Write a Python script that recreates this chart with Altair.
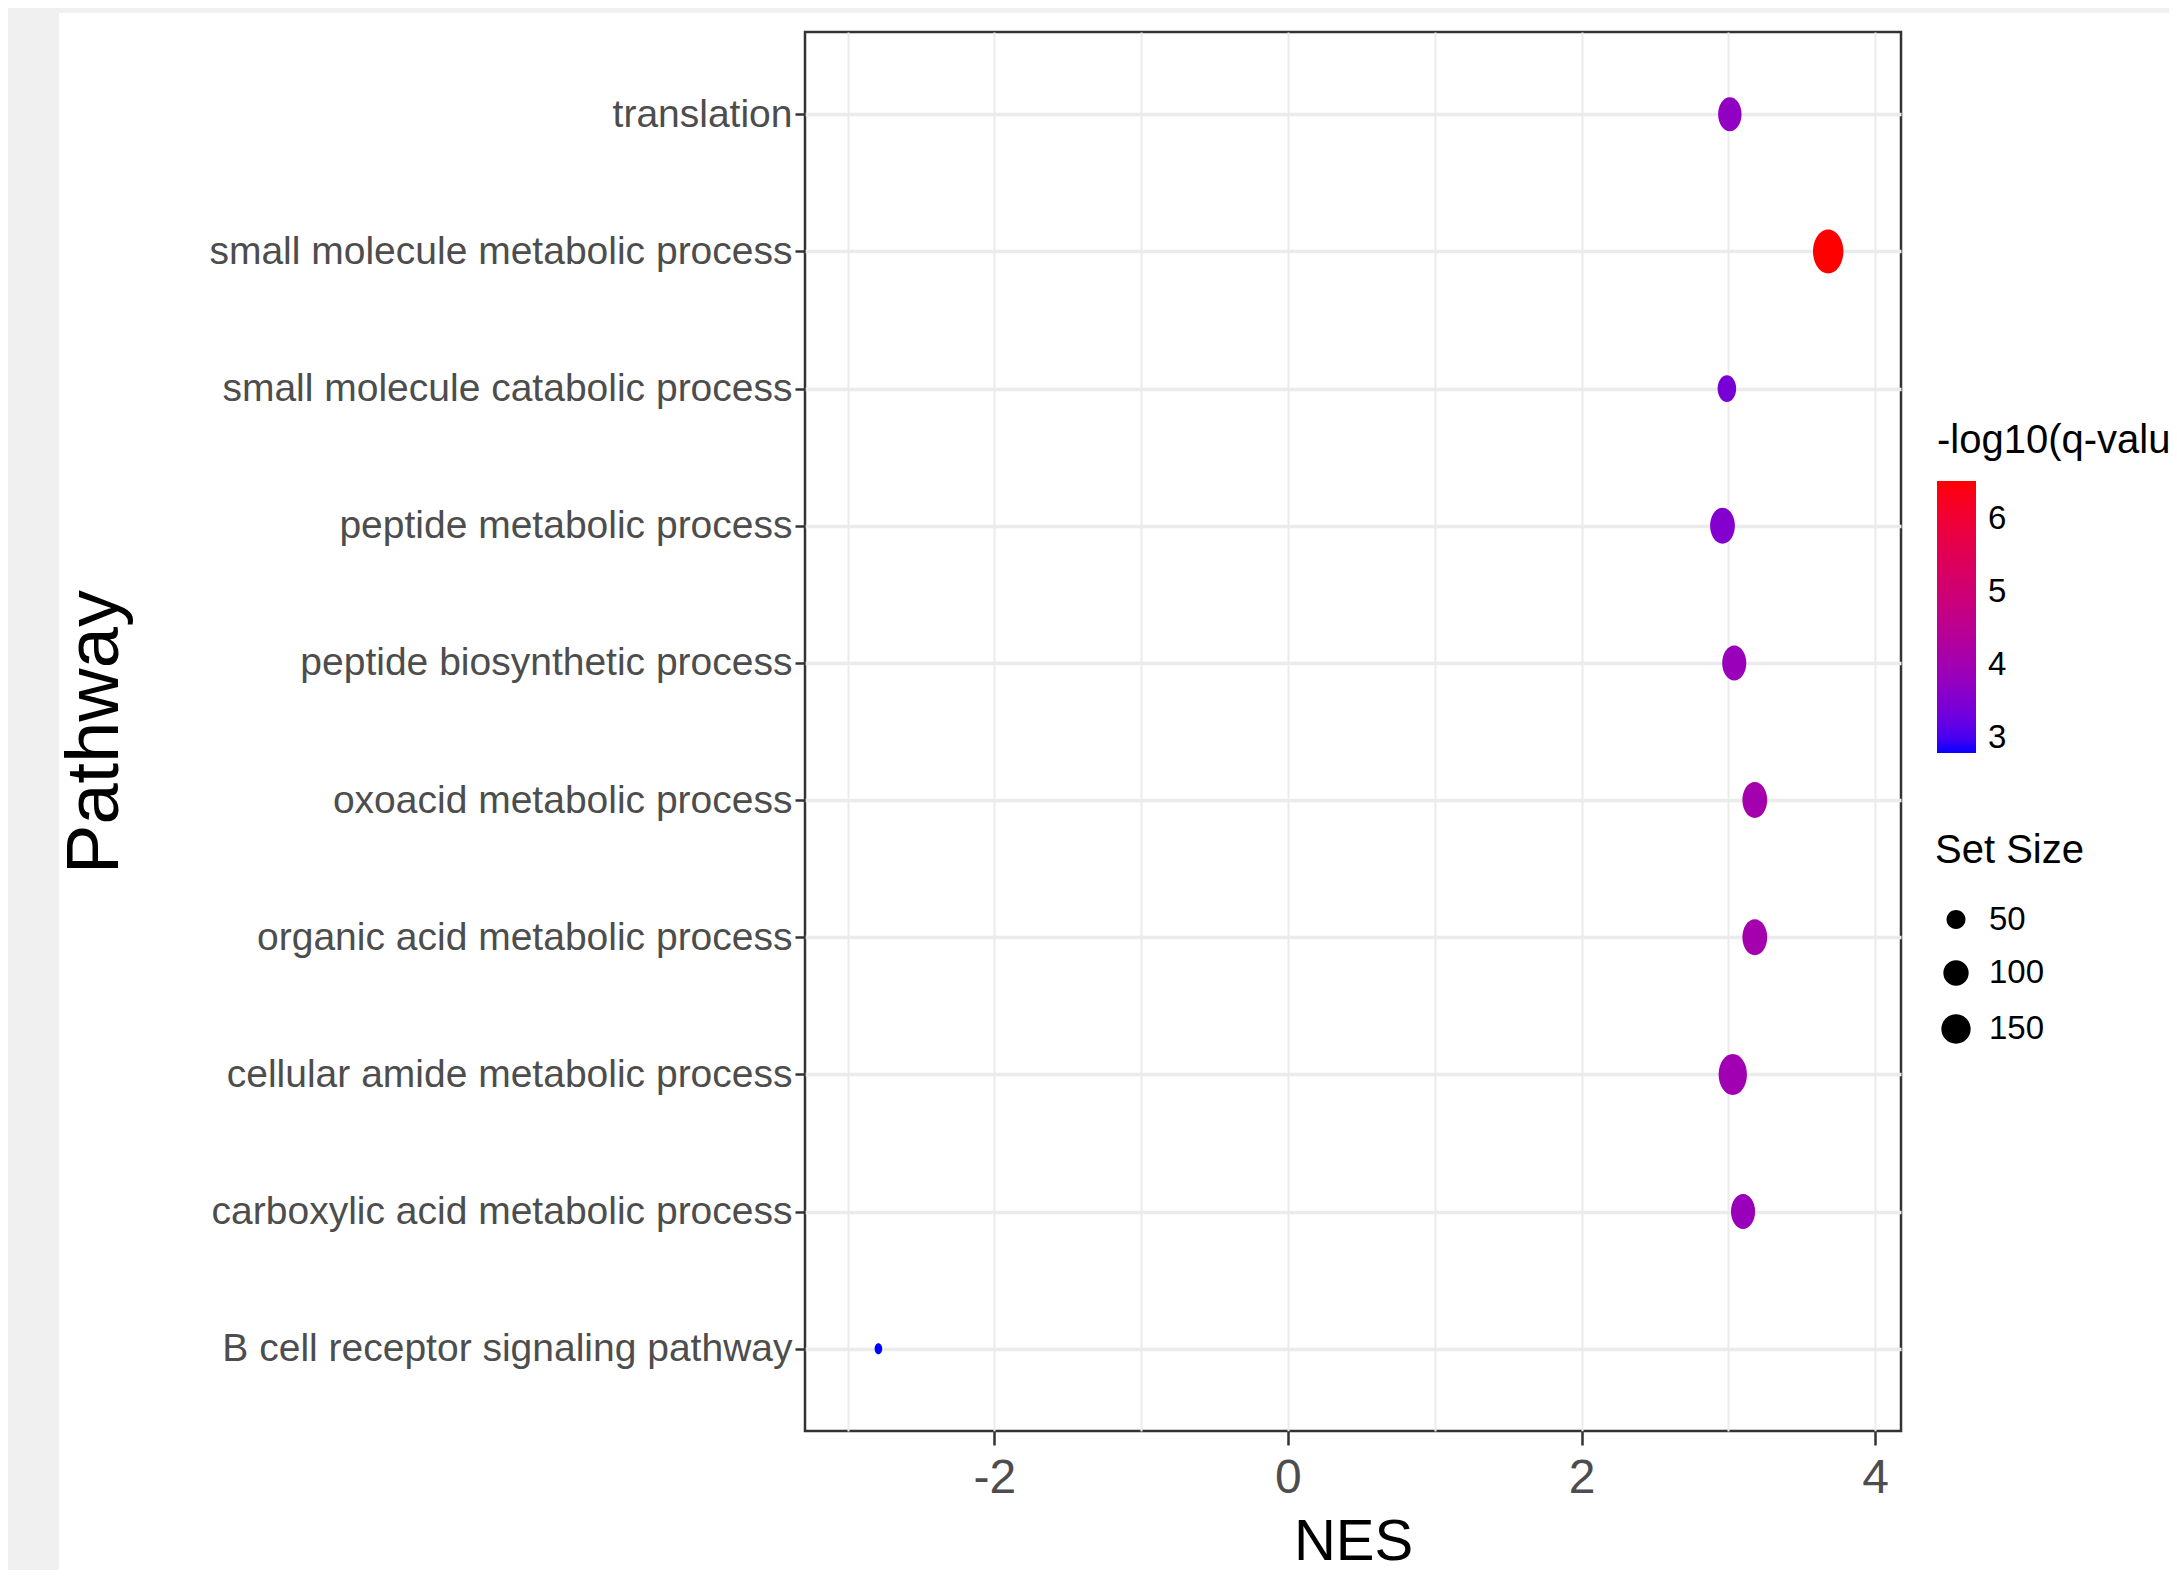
import altair as alt
import pandas as pd

# ---- data ----
pathways = [
    "translation",
    "small molecule metabolic process",
    "small molecule catabolic process",
    "peptide metabolic process",
    "peptide biosynthetic process",
    "oxoacid metabolic process",
    "organic acid metabolic process",
    "cellular amide metabolic process",
    "carboxylic acid metabolic process",
    "B cell receptor signaling pathway",
]
nes = [3.01, 3.68, 2.99, 2.96, 3.04, 3.18, 3.18, 3.03, 3.10, -2.79]
neg_log10_q = [3.72, 6.52, 3.40, 3.54, 3.87, 4.06, 4.06, 3.98, 3.87, 2.79]
set_size = [88, 181, 51, 102, 95, 102, 102, 147, 95, 16]

x_ticks = [-3, -2, -1, 0, 1, 2, 3, 4]
color_ticks = [3, 4, 5, 6]
size_ticks = [50, 100, 150]

df = pd.DataFrame({
    "Pathway": pathways,
    "NES": nes,
    "q": neg_log10_q,
    "SetSize": set_size,
})

FONT = "Liberation Sans, Arial, Helvetica, sans-serif"

# ellipse (points look vertically stretched in the reference)
ELLIPSE = ("M0,-1 C0.381,-1 0.69,-0.552 0.69,0 C0.69,0.552 0.381,1 0,1 "
           "C-0.381,1 -0.69,0.552 -0.69,0 C-0.69,-0.552 -0.381,-1 0,-1 Z")
LEG_CIRCLE = ("M0,-0.71 C0.392,-0.71 0.71,-0.392 0.71,0 C0.71,0.392 0.392,0.71 0,0.71 "
              "C-0.392,0.71 -0.71,0.392 -0.71,0 C-0.71,-0.392 -0.392,-0.71 0,-0.71 Z")

W, H = 1096, 1399
PAD_L, PAD_T, PAD_R, PAD_B = 797, 24, 268, 139

points = alt.Chart(df).mark_point(filled=True, opacity=1, shape=ELLIPSE, strokeWidth=0).encode(
    x=alt.X(
        "NES:Q",
        title="NES",
        scale=alt.Scale(domain=[-3.29, 4.176], nice=False, zero=False),
        axis=alt.Axis(
            values=x_ticks,
            labelExpr="datum.value % 2 === 0 ? '' + datum.value : ''",
            tickOpacity={"condition": {"test": "datum.value % 2 === 0", "value": 1}, "value": 0},
            domain=False,
            grid=True,
            gridColor="#ebebeb",
            gridWidth=2,
            tickSize=14,
            tickWidth=2.5,
            tickColor="#333333",
            labelFont=FONT,
            labelFontSize=48,
            labelColor="#4d4d4d",
            labelBaseline="alphabetic",
            labelPadding=47,
            titleFont=FONT,
            titleFontSize=58,
            titleFontWeight="normal",
            titleColor="black",
            titleX=548,
            titleY=128,
            titleAlign="center",
            titleBaseline="alphabetic",
        ),
    ),
    y=alt.Y(
        "Pathway:N",
        title="Pathway",
        sort=pathways,
        scale=alt.Scale(padding=0.6),
        axis=alt.Axis(
            domain=False,
            grid=True,
            gridColor="#ebebeb",
            gridWidth=3.5,
            tickSize=10,
            tickWidth=2.5,
            tickColor="#333333",
            labelFont=FONT,
            labelFontSize=39,
            labelColor="#4d4d4d",
            labelPadding=3,
            labelLimit=2000,
            titleFont=FONT,
            titleFontSize=74,
            titleFontWeight="normal",
            titleColor="black",
            titleAngle=270,
            titleX=-688,
            titleY=H / 2,
            titleAlign="center",
            titleBaseline="alphabetic",
        ),
    ),
    color=alt.Color(
        "q:Q",
        title="-log10(q-value)",
        scale=alt.Scale(domain=[2.79, 6.52], range=["blue", "red"], interpolate="lab"),
        legend=alt.Legend(
            orient="none",
            legendX=1132,
            legendY=389,
            direction="vertical",
            gradientLength=272,
            gradientThickness=39,
            gradientStrokeWidth=0,
            values=color_ticks,
            labelOffset=12,
            titlePadding=20,
            padding=0,
        ),
    ),
    size=alt.Size(
        "SetSize:Q",
        title="Set Size",
        scale=alt.Scale(type="sqrt", domain=[16, 181], range=[121, 1936], zero=False),
        legend=alt.Legend(
            orient="none",
            legendX=1130,
            legendY=799,
            values=size_ticks,
            symbolType=LEG_CIRCLE,
            symbolFillColor="black",
            symbolStrokeWidth=0,
            symbolOpacity=1,
            rowPadding=18,
            labelOffset=12,
            titlePadding=32,
            padding=0,
        ),
    ),
)

# light grey frame strips at the left and top edge of the picture
frame = alt.Data(values=[{"k": 0}])
left_strip = alt.Chart(frame).mark_rect(color="#f0f0f0").encode(
    x=alt.value(-PAD_L), x2=alt.value(-746), y=alt.value(-PAD_T), y2=alt.value(H + PAD_B)
)
top_strip = alt.Chart(frame).mark_rect(color="#f0f0f0").encode(
    x=alt.value(-746), x2=alt.value(W + PAD_R), y=alt.value(-PAD_T), y2=alt.value(-19)
)

chart = alt.layer(left_strip, top_strip, points).properties(
    width=W,
    height=H,
    autosize=alt.AutoSizeParams(type="none"),
    padding={"left": PAD_L, "top": PAD_T, "right": PAD_R, "bottom": PAD_B},
    background="white",
).configure_view(
    stroke="#333333",
    strokeWidth=2.5,
    fill="white",
).configure_legend(
    titleFont=FONT,
    titleFontSize=40,
    titleFontWeight="normal",
    titleColor="black",
    titleLimit=2000,
    labelFont=FONT,
    labelFontSize=33,
    labelColor="black",
)

chart.save("out.html", embed_options={"renderer": "svg", "actions": False})
